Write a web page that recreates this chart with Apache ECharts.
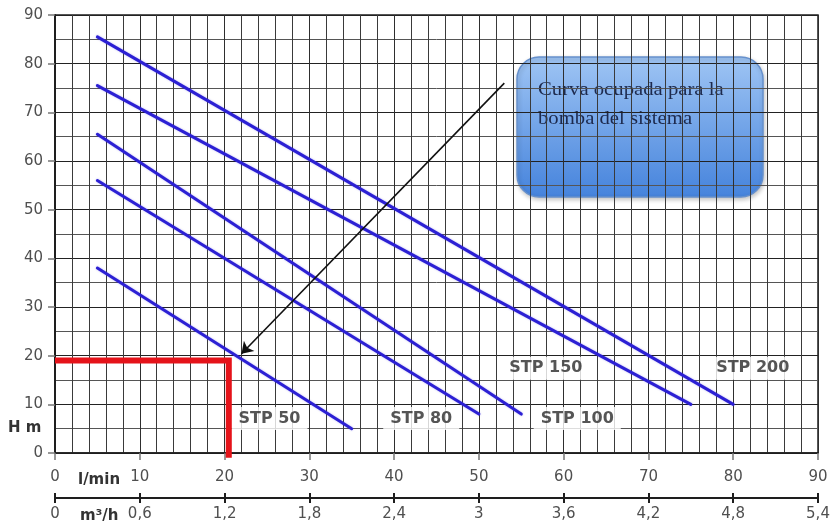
<!DOCTYPE html>
<html>
<head>
<meta charset="utf-8">
<script src="https://cdn.jsdelivr.net/npm/echarts@6/dist/echarts.min.js"></script>
<style>
  html, body { margin: 0; padding: 0; background: #ffffff; }
  #chart { width: 833px; height: 526px; }
</style>
</head>
<body>
<div id="chart"></div>
<script>
// Pump curves: head (m) versus flow (l/min), straight segments per model
const curveNames     = ['STP 50', 'STP 80', 'STP 100', 'STP 150', 'STP 200'];
const curveStartFlow = [5, 5, 5, 5, 5];
const curveStartHead = [38, 56, 65.5, 75.5, 85.5];
const curveEndFlow   = [35, 50, 55, 75, 80];
const curveEndHead   = [5, 8, 8, 10, 10];

// Operating point of the system
const dutyFlow = 20.5;
const dutyHead = 19;

// Tick labels
const flowTickLabels = ['0', '10', '20', '30', '40', '50', '60', '70', '80', '90'];
const m3hTickLabels  = ['0', '0,6', '1,2', '1,8', '2,4', '3', '3,6', '4,2', '4,8', '5,4'];
const headTickLabels = ['0', '10', '20', '30', '40', '50', '60', '70', '80', '90'];

// Where each model name sits (flow, head)
const curveLabelFlow = [25.3, 43.2, 61.6, 57.9, 82.3];
const curveLabelHead = [7.1, 7.1, 7.1, 17.4, 17.4];

// Callout arrow (flow, head)
const arrowFrom = [53, 76];
const arrowTo   = [22, 20.4];
const calloutLines = ['Curva ocupada para la', 'bomba del sistema'];

const chart = echarts.init(document.getElementById('chart'), null, { renderer: 'canvas' });

const tickFont = { fontFamily: 'DejaVu Sans', fontSize: 15, color: '#4f4f4f' };
const gridDark = '#2e2e2e';

const curveSeries = curveNames.map((name, i) => ({
  type: 'line',
  name: name,
  xAxisIndex: 0,
  yAxisIndex: 0,
  data: [[curveStartFlow[i], curveStartHead[i]], [curveEndFlow[i], curveEndHead[i]]],
  showSymbol: false,
  symbol: 'none',
  lineStyle: { color: '#2c20d4', width: 3, cap: 'round', shadowColor: 'rgba(44,32,212,0.35)', shadowBlur: 2 },
  z: 3,
  silent: true
}));

const option = {
  animation: false,
  backgroundColor: '#ffffff',
  grid: {
    left: 55, right: 15, top: 15, bottom: 73,
    show: true, borderColor: '#1e1e1e', borderWidth: 1.5, backgroundColor: 'transparent'
  },
  xAxis: [
    {
      type: 'value', min: 0, max: 90, interval: 10, position: 'bottom',
      axisLine: { show: true, lineStyle: { color: '#1e1e1e', width: 1.5 } },
      axisTick: { show: true, length: 7, lineStyle: { color: '#777', width: 1.5 } },
      axisLabel: Object.assign({ margin: 17, formatter: v => flowTickLabels[Math.round(v / 10)] }, tickFont),
      splitLine: { show: true, lineStyle: { color: gridDark, width: 1 } },
      minorTick: { show: false, splitNumber: 5 },
      minorSplitLine: { show: true, lineStyle: { color: '#3a3a3a', width: 1 } }
    },
    {
      type: 'value', min: 0, max: 90, interval: 10, position: 'bottom', offset: 45,
      axisLine: { show: true, lineStyle: { color: '#1e1e1e', width: 2 } },
      axisTick: { show: true, length: 5, lineStyle: { color: '#1e1e1e', width: 2 } },
      axisLabel: Object.assign({ margin: 9, formatter: v => m3hTickLabels[Math.round(v / 10)] }, tickFont),
      splitLine: { show: false }
    },
    {
      type: 'value', min: 0, max: 90, interval: 10, position: 'bottom', offset: 40,
      axisLine: { show: false },
      axisTick: { show: true, length: 5, lineStyle: { color: '#1e1e1e', width: 2 } },
      axisLabel: { show: false },
      splitLine: { show: false }
    }
  ],
  yAxis: [
    {
      type: 'value', min: 0, max: 90, interval: 10,
      axisLine: { show: true, lineStyle: { color: '#1e1e1e', width: 2 } },
      axisTick: { show: true, length: 7, lineStyle: { color: '#777', width: 1.5 } },
      axisLabel: Object.assign({ margin: 12, formatter: v => headTickLabels[Math.round(v / 10)] }, tickFont),
      splitLine: { show: true, lineStyle: { color: '#222', width: 1.2 } },
      minorTick: { show: false, splitNumber: 2 },
      minorSplitLine: { show: true, lineStyle: { color: '#555', width: 1 } }
    }
  ],
  series: curveSeries.concat([
    {
      // model names
      type: 'scatter',
      name: 'labels',
      data: curveNames.map((n, i) => ({ value: [curveLabelFlow[i], curveLabelHead[i]], name: n })),
      symbol: 'rect',
      symbolSize: 1,
      itemStyle: { color: 'rgba(255,255,255,0)' },
      label: {
        show: true,
        position: 'inside',
        formatter: p => p.name,
        fontFamily: 'DejaVu Sans',
        fontWeight: 'bold',
        fontSize: 16,
        color: '#2b2b2b',
        backgroundColor: '#ffffff',
        padding: [4, 7, 3, 7]
      },
      z: 5,
      silent: true
    },
    {
      // operating point guide
      type: 'line',
      name: 'duty',
      data: [[0, dutyHead], [dutyFlow, dutyHead], [dutyFlow, -1]],
      showSymbol: false,
      symbol: 'none',
      clip: false,
      lineStyle: { color: '#e5131a', width: 6, join: 'miter' },
      z: 6,
      silent: true
    },
    {
      // callout arrow
      type: 'lines',
      coordinateSystem: 'cartesian2d',
      data: [{ coords: [arrowFrom, arrowTo] }],
      symbol: ['none', 'arrow'],
      symbolSize: [0, 11],
      lineStyle: { color: '#111111', width: 1.6, opacity: 1, curveness: 0 },
      z: 7,
      silent: true
    }
  ]),
  graphic: [
    {
      type: 'group',
      z: 100,
      children: [
        {
          type: 'rect',
          shape: { x: 517, y: 57, width: 246, height: 140, r: 22 },
          style: {
            fill: {
              type: 'linear', x: 0, y: 0, x2: 0, y2: 1,
              colorStops: [
                { offset: 0, color: '#9fc5f4' },
                { offset: 1, color: '#4583dc' }
              ]
            },
            stroke: '#6690cc',
            lineWidth: 1.5,
            shadowColor: 'rgba(0,0,0,0.22)',
            shadowBlur: 4,
            shadowOffsetX: 1,
            shadowOffsetY: 2
          }
        },
        {
          type: 'text',
          x: 538, y: 90,
          scaleX: 1.15,
          style: {
            text: calloutLines[0],
            font: '18px "Liberation Serif"',
            fill: '#1d2a4e',
            textVerticalAlign: 'middle'
          }
        },
        {
          type: 'text',
          x: 538, y: 119,
          scaleX: 1.15,
          style: {
            text: calloutLines[1],
            font: '18px "Liberation Serif"',
            fill: '#1d2a4e',
            textVerticalAlign: 'middle'
          }
        }
      ]
    },
    {
      type: 'text',
      x: 78, y: 480,
      style: { text: 'l/min', font: 'bold 15px "DejaVu Sans"', fill: '#333333', textVerticalAlign: 'middle' }
    },
    {
      type: 'text',
      x: 80, y: 516,
      style: { text: 'm³/h', font: 'bold 15px "DejaVu Sans"', fill: '#333333', textVerticalAlign: 'middle' }
    },
    {
      type: 'text',
      x: 8, y: 428,
      style: { text: 'H m', font: 'bold 15px "DejaVu Sans"', fill: '#333333', textVerticalAlign: 'middle' }
    }
  ]
};

chart.setOption(option);
</script>
</body>
</html>
